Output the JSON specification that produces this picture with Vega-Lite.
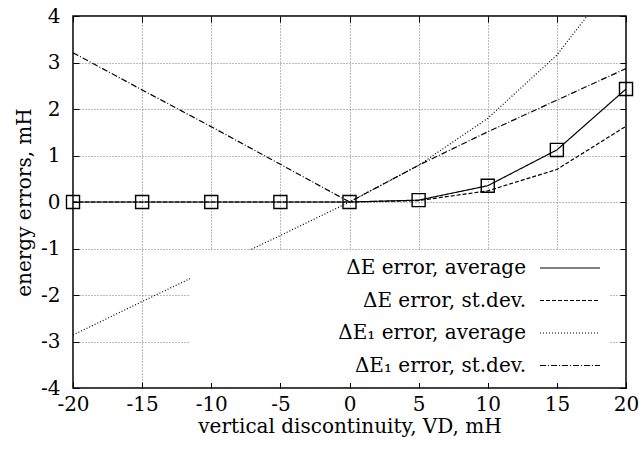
{
  "$schema": "https://vega.github.io/schema/vega-lite/v6.json",
  "width": 553,
  "height": 372,
  "autosize": {"type": "none"},
  "padding": {"left": 73, "top": 16, "right": 17, "bottom": 66},
  "background": "white",
  "config": {
    "view": {"stroke": "black", "strokeWidth": 1.5},
    "font": "DejaVu Serif",
    "axis": {
      "domain": false,
      "labelFont": "DejaVu Serif",
      "labelFontSize": 20,
      "labelColor": "black",
      "labelFlush": false,
      "labelOverlap": false,
      "titleFont": "DejaVu Serif",
      "titleFontSize": 20,
      "titleFontWeight": "normal",
      "titleColor": "black",
      "tickColor": "black",
      "tickWidth": 1,
      "tickSize": -6,
      "gridColor": "#555",
      "gridDash": [1, 2],
      "gridWidth": 0.8,
      "gridOpacity": 1
    }
  },
  "data": {
    "values": [
      {"x": -20, "y": 0, "series": "ΔE error, average"},
      {"x": -15, "y": 0, "series": "ΔE error, average"},
      {"x": -10, "y": 0, "series": "ΔE error, average"},
      {"x": -5, "y": 0, "series": "ΔE error, average"},
      {"x": 0, "y": 0, "series": "ΔE error, average"},
      {"x": 5, "y": 0.04, "series": "ΔE error, average"},
      {"x": 10, "y": 0.35, "series": "ΔE error, average"},
      {"x": 15, "y": 1.12, "series": "ΔE error, average"},
      {"x": 20, "y": 2.43, "series": "ΔE error, average"},
      {"x": -20, "y": 0, "series": "ΔE error, st.dev."},
      {"x": -15, "y": 0, "series": "ΔE error, st.dev."},
      {"x": -10, "y": 0, "series": "ΔE error, st.dev."},
      {"x": -5, "y": 0, "series": "ΔE error, st.dev."},
      {"x": 0, "y": 0, "series": "ΔE error, st.dev."},
      {"x": 5, "y": 0.03, "series": "ΔE error, st.dev."},
      {"x": 10, "y": 0.24, "series": "ΔE error, st.dev."},
      {"x": 15, "y": 0.70, "series": "ΔE error, st.dev."},
      {"x": 20, "y": 1.63, "series": "ΔE error, st.dev."},
      {"x": -20, "y": -2.86, "series": "ΔE₁ error, average"},
      {"x": -15, "y": -2.14, "series": "ΔE₁ error, average"},
      {"x": -10, "y": -1.43, "series": "ΔE₁ error, average"},
      {"x": -5, "y": -0.72, "series": "ΔE₁ error, average"},
      {"x": 0, "y": 0, "series": "ΔE₁ error, average"},
      {"x": 5, "y": 0.79, "series": "ΔE₁ error, average"},
      {"x": 10, "y": 1.80, "series": "ΔE₁ error, average"},
      {"x": 15, "y": 3.16, "series": "ΔE₁ error, average"},
      {"x": 20, "y": 5.08, "series": "ΔE₁ error, average"},
      {"x": -20, "y": 3.21, "series": "ΔE₁ error, st.dev."},
      {"x": -15, "y": 2.41, "series": "ΔE₁ error, st.dev."},
      {"x": -10, "y": 1.62, "series": "ΔE₁ error, st.dev."},
      {"x": -5, "y": 0.81, "series": "ΔE₁ error, st.dev."},
      {"x": 0, "y": 0, "series": "ΔE₁ error, st.dev."},
      {"x": 5, "y": 0.79, "series": "ΔE₁ error, st.dev."},
      {"x": 10, "y": 1.51, "series": "ΔE₁ error, st.dev."},
      {"x": 15, "y": 2.19, "series": "ΔE₁ error, st.dev."},
      {"x": 20, "y": 2.87, "series": "ΔE₁ error, st.dev."}
    ]
  },
  "layer": [
    {
      "mark": {"type": "line", "clip": true, "color": "black", "strokeWidth": 1.2},
      "encoding": {
        "x": {
          "field": "x", "type": "quantitative",
          "scale": {"domain": [-20, 20], "nice": false, "zero": false},
          "axis": {
            "orient": "bottom",
            "values": [-20, -15, -10, -5, 0, 5, 10, 15, 20],
            "labelExpr": "toString(datum.value)",
            "labelPadding": 12,
            "grid": true,
            "title": "vertical discontinuity, VD, mH",
            "titleY": 44,
            "titleBaseline": "alphabetic"
          }
        },
        "y": {
          "field": "y", "type": "quantitative",
          "scale": {"domain": [-4, 4], "nice": false, "zero": false},
          "axis": {
            "orient": "left",
            "values": [-4, -3, -2, -1, 0, 1, 2, 3, 4],
            "labelExpr": "toString(datum.value)",
            "labelPadding": 19,
            "grid": true,
            "title": "energy errors, mH",
            "titleX": -49,
            "titleBaseline": "middle"
          }
        },
        "strokeDash": {
          "field": "series", "type": "nominal",
          "scale": {
            "domain": ["ΔE error, average", "ΔE error, st.dev.", "ΔE₁ error, average", "ΔE₁ error, st.dev."],
            "range": [[1, 0], [4, 2], [1, 2], [6, 2, 1, 2]]
          },
          "legend": {
            "title": null,
            "orient": "none",
            "legendX": 117,
            "legendY": 234,
            "fillColor": "white",
            "padding": 7,
            "symbolType": "M-3,0H3",
            "symbolSize": 400,
            "symbolStrokeWidth": 1.2,
            "symbolStrokeColor": "black",
            "rowPadding": 11.5,
            "labelAlign": "right",
            "labelBaseline": "middle",
            "labelFont": "DejaVu Serif",
            "labelFontSize": 20,
            "labelColor": "black",
            "labelLimit": 400,
            "labelOffset": -55,
            "symbolOffset": 362
          }
        }
      }
    },
    {
      "transform": [{"filter": "datum.series === 'ΔE error, average'"}],
      "mark": {"type": "point", "shape": "square", "filled": false, "color": "black", "size": 170, "strokeWidth": 1.4, "opacity": 1},
      "encoding": {
        "x": {
          "field": "x", "type": "quantitative",
          "axis": {"orient": "top", "values": [-20, -15, -10, -5, 0, 5, 10, 15, 20], "labels": false, "grid": false, "title": null}
        },
        "y": {
          "field": "y", "type": "quantitative",
          "axis": {"orient": "right", "values": [-4, -3, -2, -1, 0, 1, 2, 3, 4], "labels": false, "grid": false, "title": null}
        }
      }
    }
  ],
  "resolve": {"axis": {"x": "independent", "y": "independent"}}
}
